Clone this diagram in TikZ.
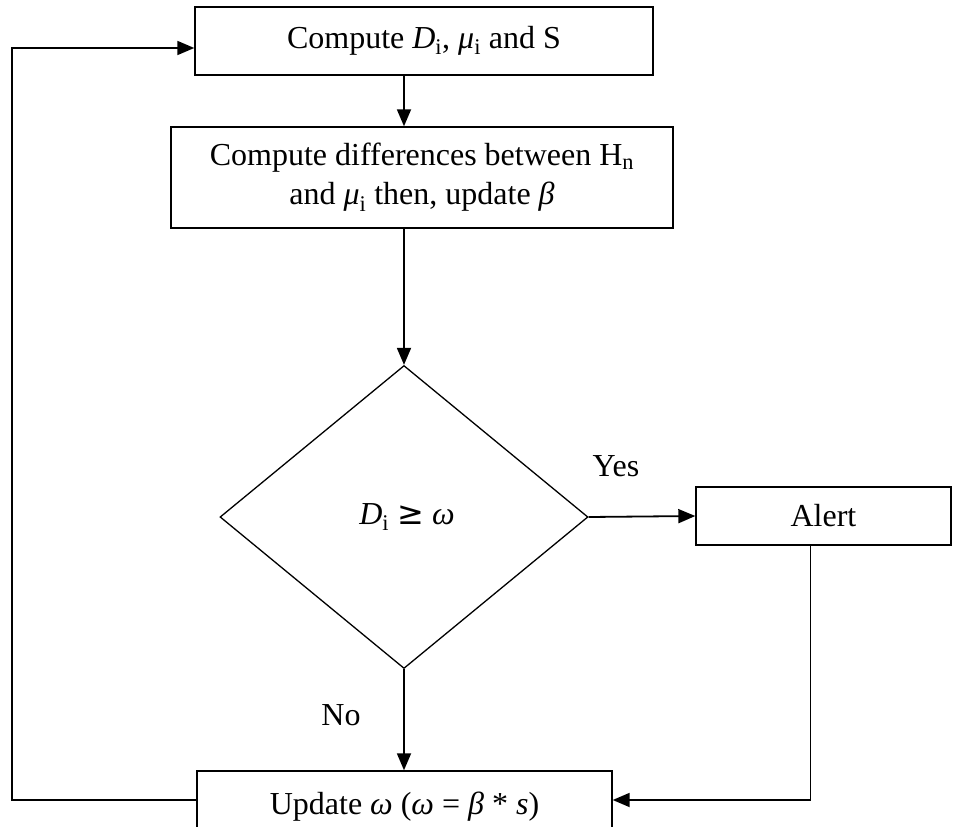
\documentclass[tikz,border=0pt]{standalone}
\usepackage{fontspec}
\setmainfont{Liberation Serif}
\newfontfamily\relfont{DejaVu Sans}
\usetikzlibrary{shapes.geometric,arrows.meta}
\newcommand{\sub}[1]{\textsubscript{#1}}
\newcommand{\bigge}{{\relfont ≥}}
\begin{document}
\begin{tikzpicture}[x=1pt,y=-1pt,
  every node/.style={font=\fontsize{32}{39}\selectfont},
  procbox/.style={draw,line width=1.4pt,inner sep=0pt,align=center},
  decision/.style={draw,diamond,line width=1.3pt,inner sep=0pt,aspect=1.21,
    minimum width=368pt,minimum height=303pt},
  flow/.style={line width=1.8pt,-{Triangle[length=17pt,width=14pt]}},
  tag/.style={inner sep=0pt}]
\useasboundingbox (0,0) rectangle (953,827);

% process steps
\node[procbox,minimum width=458pt,minimum height=68pt] (compute) at (424,41)
  {Compute \textit{D}\sub{i}, \textit{μ}\sub{i} and S};
\node[procbox,minimum width=502pt,minimum height=101pt] (diff) at (422,177.5)
  {Compute differences between H\sub{n}\\ and \textit{μ}\sub{i} then, update \textit{β}};
\node[decision] (test) at (404,517) {\hspace*{6pt}\textit{D}\sub{i} \bigge{} \textit{ω}};
\node[procbox,minimum width=255pt,minimum height=58pt] (alert) at (823.5,516) {Alert};
\node[procbox,minimum width=415pt,minimum height=72pt] (update) at (404.5,807)
  {Update \textit{ω} (\textit{ω} = \textit{β} * \textit{s})};

% branch labels
\node[tag] (yes) at (616,466) {Yes};
\node[tag] (no) at (341,715) {No};

% connectors
\draw[flow] (test.north |- compute.south) -- (test.north |- diff.north);
\draw[flow] (test.north |- diff.south) -- (test.north);
\draw[flow] (test.east) -- (alert.west);
\draw[flow] (test.south) -- (test.south |- update.north);
\draw[flow] ([xshift=-13pt]alert.south) |- ([yshift=7pt]update.east);
\draw[flow] ([yshift=7pt]update.west) -| (12,100) |- ([yshift=-7pt]compute.west);
\end{tikzpicture}
\end{document}
